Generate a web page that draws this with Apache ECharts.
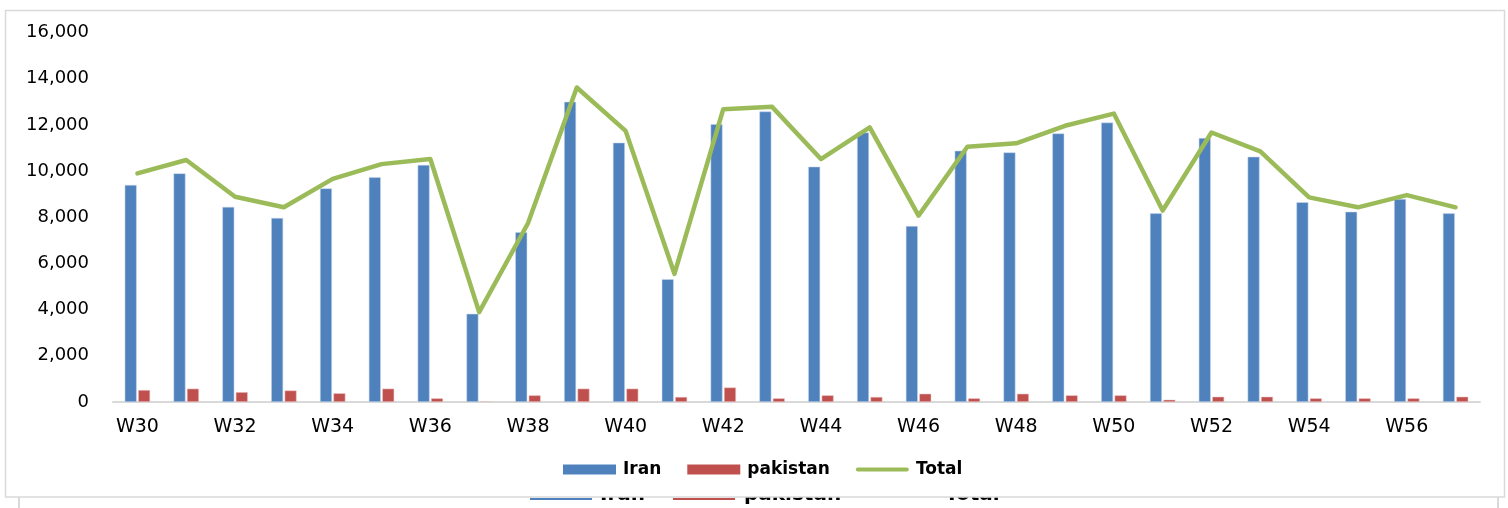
<!DOCTYPE html>
<html>
<head>
<meta charset="utf-8">
<script src="https://cdn.jsdelivr.net/npm/echarts@6/dist/echarts.min.js"></script>
<style>
html,body{margin:0;padding:0;background:#fff;}
#c{width:1508px;height:508px;}
</style>
</head>
<body>
<div id="c"></div>
<script>
var categories = ['W30','W31','W32','W33','W34','W35','W36','W37','W38','W39','W40','W41','W42','W43','W44','W45','W46','W47','W48','W49','W50','W51','W52','W53','W54','W55','W56','W57'];
var iran = [9400, 9900, 8450, 7970, 9250, 9730, 10270, 3820, 7350, 13000, 11230, 5320, 12030, 12580, 10190, 11670, 7620, 10880, 10810, 11630, 12100, 8170, 11430, 10620, 8650, 8240, 8790, 8170];
var pakistan = [520, 580, 430, 500, 380, 580, 160, 30, 290, 580, 580, 220, 630, 160, 290, 220, 360, 160, 360, 290, 290, 100, 230, 230, 160, 160, 160, 230];
var total = [9900, 10480, 8890, 8430, 9660, 10300, 10520, 3890, 7740, 13620, 11740, 5550, 12680, 12780, 10520, 11890, 8070, 11050, 11200, 11960, 12490, 8290, 11670, 10850, 8860, 8430, 8960, 8430];
var yTicks = [0, 2000, 4000, 6000, 8000, 10000, 12000, 14000, 16000];

var chart = echarts.init(document.getElementById('c'), null, {renderer: 'canvas'});
var option = {
  animation: false,
  backgroundColor: '#ffffff',
  graphic: [
    {type: 'rect', z: -10, shape: {x: 19, y: 470, width: 1479, height: 60}, style: {fill: '#fff', stroke: '#d9d9d9', lineWidth: 2}},
    {type: 'line', z: -9, shape: {x1: 530, y1: 499, x2: 592, y2: 499}, style: {stroke: '#4F81BD', lineWidth: 2}},
    {type: 'line', z: -9, shape: {x1: 673, y1: 499, x2: 735, y2: 499}, style: {stroke: '#C0504D', lineWidth: 2}},
    {type: 'text', z: -9, x: 600, y: 495, style: {text: 'Iran', font: 'bold 20px "DejaVu Sans"', fill: '#000', verticalAlign: 'middle'}},
    {type: 'text', z: -9, x: 744, y: 495, style: {text: 'pakistan', font: 'bold 20px "DejaVu Sans"', fill: '#000', verticalAlign: 'middle'}},
    {type: 'text', z: -9, x: 945, y: 495, style: {text: 'Total', font: 'bold 20px "DejaVu Sans"', fill: '#000', verticalAlign: 'middle'}},
    {type: 'rect', z: -8, shape: {x: 5.5, y: 10.5, width: 1499, height: 486.5}, style: {fill: '#fff', stroke: '#d9d9d9', lineWidth: 1.5}}
  ],
  grid: {left: 113, right: 28, top: 32.5, bottom: 106, containLabel: false},
  legend: {
    left: 558, top: 456,
    itemWidth: 53, itemHeight: 10, itemGap: 26,
    textStyle: {fontFamily: 'DejaVu Sans', fontWeight: 'bold', fontSize: 17, color: '#000', padding: [0,0,0,2]},
    data: [
      {name: 'Iran', icon: 'rect', itemStyle: {borderWidth: 0}},
      {name: 'pakistan', icon: 'rect', itemStyle: {borderWidth: 0}},
      {name: 'Total', icon: 'path://M0,0 M56,10 M2,2.8 L54,2.8 A2.2,2.2 0 0 1 54,7.2 L2,7.2 A2.2,2.2 0 0 1 2,2.8 Z', itemStyle: {color: '#9BBB59', borderWidth: 0}}
    ]
  },
  xAxis: {
    type: 'category',
    data: categories,
    axisLine: {lineStyle: {color: '#d9d9d9', width: 2}},
    axisTick: {show: false},
    axisLabel: {interval: 1, margin: 16, fontFamily: 'DejaVu Sans', fontSize: 19, color: '#000'}
  },
  yAxis: {
    type: 'value',
    min: yTicks[0], max: yTicks[yTicks.length - 1], interval: 2000,
    axisLine: {show: false},
    axisTick: {show: false},
    splitLine: {show: false},
    axisLabel: {margin: 24, fontFamily: 'DejaVu Sans', fontSize: 18, color: '#000',
      formatter: function (v) { return v.toLocaleString('en-US'); }}
  },
  series: [
    {name: 'Iran', type: 'bar', data: iran, barWidth: 12, barGap: '12%',
      itemStyle: {color: '#4F81BD', borderColor: 'rgba(200,215,235,0.9)', borderWidth: 0.6}},
    {name: 'pakistan', type: 'bar', data: pakistan, barWidth: 12, barGap: '12%',
      itemStyle: {color: '#C0504D', borderColor: 'rgba(235,200,200,0.9)', borderWidth: 0.6}},
    {name: 'Total', type: 'line', data: total, symbol: 'none', showSymbol: false, z: 5,
      lineStyle: {color: '#9BBB59', width: 4.5, cap: 'round', join: 'round'},
      itemStyle: {color: '#9BBB59'}}
  ]
};
chart.setOption(option);
</script>
</body>
</html>
